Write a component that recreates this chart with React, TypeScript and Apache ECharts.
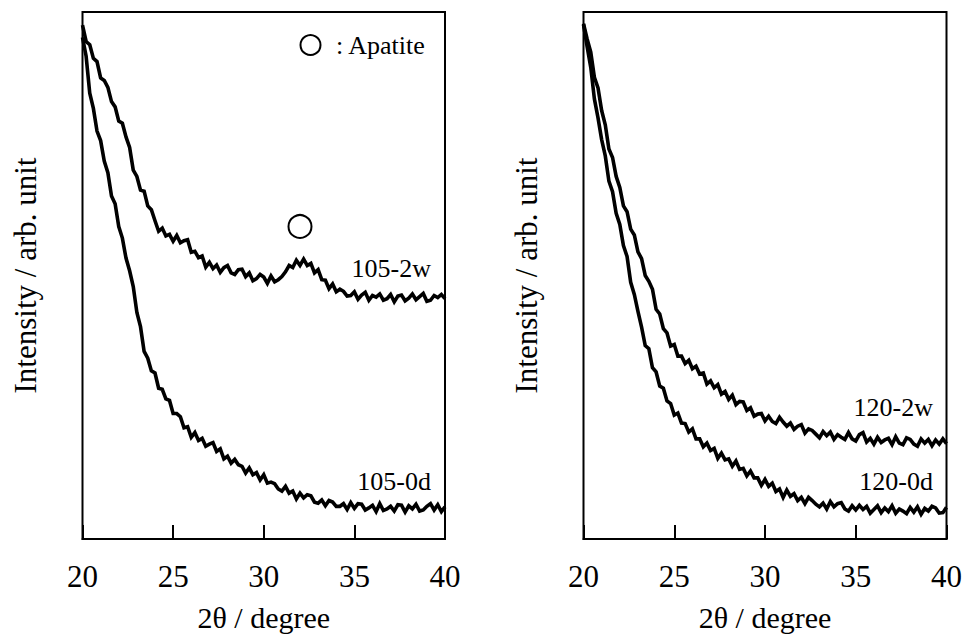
import React, { useEffect, useRef } from "react";
import * as echarts from "echarts";

// 2θ scan grid: 20.0° to 40.0° in 0.2° steps (101 points)
const THETA_START = 20;
const THETA_STEP = 0.2;
const THETA: number[] = Array.from({ length: 101 }, (_, i) => +(THETA_START + i * THETA_STEP).toFixed(1));

const X_TICKS = { min: 20, max: 40, interval: 5 };

// Intensity (arb. unit, 0–100 of the frame height)
const S105_2W = [
  97.5, 94.4, 93.8, 91.2, 90.6, 87.5, 87.0, 85.7, 83.0, 82.0,
  79.3, 78.9, 76.3, 74.3, 70.0, 68.8, 66.2, 66.0, 63.2, 62.5,
  60.4, 58.4, 59.0, 57.5, 57.8, 56.5, 57.6, 56.2, 56.6, 56.8,
  54.4, 54.6, 53.4, 53.7, 51.6, 52.5, 51.3, 52.0, 50.6, 51.5,
  51.9, 50.5, 50.2, 51.1, 51.2, 49.8, 50.5, 49.0, 49.4, 50.2,
  49.7, 48.5, 49.9, 48.8, 49.2, 49.8, 50.7, 51.9, 51.5, 52.9,
  51.9, 53.1, 51.9, 52.3, 50.5, 51.1, 49.2, 49.1, 47.5, 48.4,
  46.9, 47.4, 47.0, 46.1, 46.2, 46.9, 45.5, 46.3, 46.8, 45.3,
  46.2, 45.9, 46.5, 45.3, 45.6, 46.4, 45.0, 46.1, 46.3, 45.2,
  45.7, 46.5, 45.4, 46.0, 46.6, 45.1, 45.3, 46.2, 45.8, 46.4,
  45.6,
];
const S105_0D = [
  95.2, 91.6, 84.6, 81.7, 77.4, 75.6, 71.7, 69.5, 65.1, 63.6,
  59.3, 57.1, 53.3, 50.9, 47.9, 43.0, 40.3, 35.6, 34.3, 31.9,
  31.5, 28.6, 28.4, 26.6, 26.3, 23.8, 23.8, 23.2, 21.1, 21.3,
  19.3, 20.2, 18.7, 19.1, 17.6, 18.0, 18.3, 16.6, 17.1, 15.2,
  15.7, 14.4, 15.1, 14.1, 13.8, 12.5, 13.5, 12.2, 12.6, 11.2,
  12.2, 10.6, 10.8, 10.5, 9.5, 9.1, 10.0, 8.7, 9.1, 7.6,
  8.7, 7.8, 8.4, 8.2, 7.0, 6.8, 7.4, 6.3, 7.3, 7.0,
  6.2, 6.2, 6.7, 5.6, 6.9, 5.8, 6.7, 6.6, 5.5, 5.9,
  6.4, 5.2, 6.7, 5.4, 5.7, 6.2, 5.3, 6.5, 6.4, 5.1,
  6.3, 5.7, 6.6, 5.3, 5.5, 6.2, 6.7, 5.5, 6.5, 5.2,
  6.1,
];
const S120_2W = [
  97.8, 94.9, 92.4, 87.6, 85.6, 81.3, 78.6, 74.0, 72.4, 68.8,
  66.7, 63.2, 62.1, 58.8, 57.7, 54.5, 53.2, 50.0, 48.9, 47.4,
  43.6, 42.7, 39.9, 39.1, 36.6, 36.9, 34.7, 34.7, 33.3, 33.9,
  32.3, 32.8, 31.3, 31.5, 29.4, 30.0, 28.7, 29.3, 27.5, 28.0,
  26.5, 27.3, 25.5, 26.1, 26.0, 24.4, 24.9, 23.3, 23.7, 23.8,
  22.4, 23.3, 22.3, 21.9, 23.1, 22.2, 21.4, 22.0, 20.8, 21.4,
  21.7, 20.1, 20.9, 20.6, 19.9, 19.2, 20.4, 19.6, 20.3, 18.9,
  19.8, 19.3, 18.9, 20.2, 19.0, 18.6, 19.8, 20.2, 18.4, 19.1,
  18.0, 19.3, 18.3, 18.8, 19.1, 17.9, 19.4, 18.2, 17.9, 19.2,
  18.9, 18.0, 17.6, 19.0, 18.2, 18.9, 17.7, 18.8, 18.0, 19.0,
  18.1,
];
const S120_0D = [
  97.6, 93.4, 89.5, 83.5, 79.9, 75.8, 72.7, 67.9, 65.9, 61.8,
  59.7, 55.7, 53.6, 48.7, 46.4, 43.2, 40.2, 36.7, 36.1, 32.5,
  31.7, 29.0, 28.6, 26.2, 25.7, 23.5, 23.9, 22.0, 21.9, 20.3,
  20.9, 19.0, 19.0, 17.5, 18.2, 16.8, 17.2, 15.3, 16.3, 15.0,
  15.2, 13.8, 14.8, 13.2, 13.4, 12.0, 12.9, 11.6, 11.6, 10.2,
  11.3, 10.0, 10.6, 9.0, 9.5, 7.9, 9.3, 8.1, 8.6, 7.3,
  7.9, 6.7, 7.9, 7.3, 6.6, 6.1, 6.8, 5.7, 7.1, 6.1,
  6.7, 6.9, 5.7, 5.3, 6.3, 5.5, 6.4, 5.6, 6.2, 4.9,
  5.6, 6.3, 5.0, 5.9, 5.2, 6.3, 4.9, 5.7, 5.3, 4.8,
  6.0, 5.1, 6.1, 4.7, 5.8, 5.3, 6.2, 5.9, 4.9, 5.0,
  6.0,
];

// Apatite peak marker (2θ, intensity)
const APATITE_MARK = [[32, 59.3]];

const SERIES_NAMES = ["105-2w", "105-0d", "120-2w", "120-0d"];
const X_NAME = "2θ / degree";
const Y_NAME = "Intensity / arb. unit";
const LEGEND_TEXT = ": Apatite";

const FONT = "'Liberation Serif', 'Times New Roman', Times, serif";

function pairs(ys: number[]) {
  return ys.map((y, i) => [THETA[i], y]);
}

export default function App() {
  const ref = useRef<HTMLDivElement>(null);

  useEffect(() => {
    if (!ref.current) return;
    const chart = echarts.init(ref.current, undefined, { renderer: "svg" });

    const xAxisBase = (gridIndex: number) => ({
      gridIndex,
      type: "value",
      min: X_TICKS.min,
      max: X_TICKS.max,
      interval: X_TICKS.interval,
      name: X_NAME,
      nameLocation: "middle",
      nameGap: 63,
      nameTextStyle: { color: "#000", fontSize: 30, fontFamily: FONT },
      axisLine: { show: true, lineStyle: { color: "#000", width: 2 } },
      axisTick: { show: true, inside: true, length: 14, lineStyle: { color: "#000", width: 2 } },
      axisLabel: { color: "#000", fontSize: 31, fontFamily: FONT, margin: 22 },
      splitLine: { show: false },
    });
    const yAxisBase = (gridIndex: number) => ({
      gridIndex,
      type: "value",
      min: 0,
      max: 100,
      name: Y_NAME,
      nameLocation: "middle",
      nameGap: 42,
      nameRotate: 90,
      nameTextStyle: { color: "#000", fontSize: 31, fontFamily: FONT },
      axisLine: { show: false },
      axisTick: { show: false },
      axisLabel: { show: false },
      splitLine: { show: false },
    });
    const lineSeries = (name: string, data: number[], idx: number) => ({
      name,
      type: "line",
      xAxisIndex: idx,
      yAxisIndex: idx,
      data: pairs(data),
      symbol: "none",
      showSymbol: false,
      lineStyle: { color: "#000", width: 3.6, join: "miter" },
      itemStyle: { color: "#000" },
      z: 3,
    });

    const label = (text: string, x: number, y: number) => ({
      type: "text",
      style: {
        text,
        x,
        y,
        fill: "#000",
        fontSize: 26,
        fontFamily: FONT,
        align: "right",
        textAlign: "right",
        verticalAlign: "middle",
        textVerticalAlign: "middle",
      },
      z: 10,
    });

    chart.setOption({
      animation: false,
      backgroundColor: "#fff",
      textStyle: { fontFamily: FONT },
      grid: [
        { left: 82.5, top: 12, width: 362.5, height: 527, show: true, borderColor: "#000", borderWidth: 2 },
        { left: 583.5, top: 12, width: 363, height: 527, show: true, borderColor: "#000", borderWidth: 2 },
      ],
      xAxis: [xAxisBase(0), xAxisBase(1)],
      yAxis: [yAxisBase(0), yAxisBase(1)],
      series: [
        lineSeries(SERIES_NAMES[0], S105_2W, 0),
        lineSeries(SERIES_NAMES[1], S105_0D, 0),
        lineSeries(SERIES_NAMES[2], S120_2W, 1),
        lineSeries(SERIES_NAMES[3], S120_0D, 1),
        {
          type: "scatter",
          xAxisIndex: 0,
          yAxisIndex: 0,
          data: APATITE_MARK,
          symbol: "circle",
          symbolSize: 23,
          itemStyle: { color: "#fff", borderColor: "#000", borderWidth: 2, opacity: 1 },
          z: 5,
        },
      ],
      graphic: [
        {
          type: "circle",
          shape: { cx: 310.5, cy: 45, r: 10 },
          style: { fill: "none", stroke: "#000", lineWidth: 2 },
          z: 10,
        },
        {
          type: "text",
          style: {
            text: LEGEND_TEXT,
            x: 336,
            y: 45,
            fill: "#000",
            fontSize: 26,
            fontFamily: FONT,
            align: "left",
            textAlign: "left",
            verticalAlign: "middle",
            textVerticalAlign: "middle",
          },
          z: 10,
        },
        label(SERIES_NAMES[0], 431, 268),
        label(SERIES_NAMES[1], 431, 481),
        label(SERIES_NAMES[2], 933, 407),
        label(SERIES_NAMES[3], 933, 481),
      ],
    });

    return () => chart.dispose();
  }, []);

  return (
    <div
      ref={ref}
      style={{ position: "fixed", left: 0, top: 0, width: 968, height: 638, background: "#fff" }}
    />
  );
}
